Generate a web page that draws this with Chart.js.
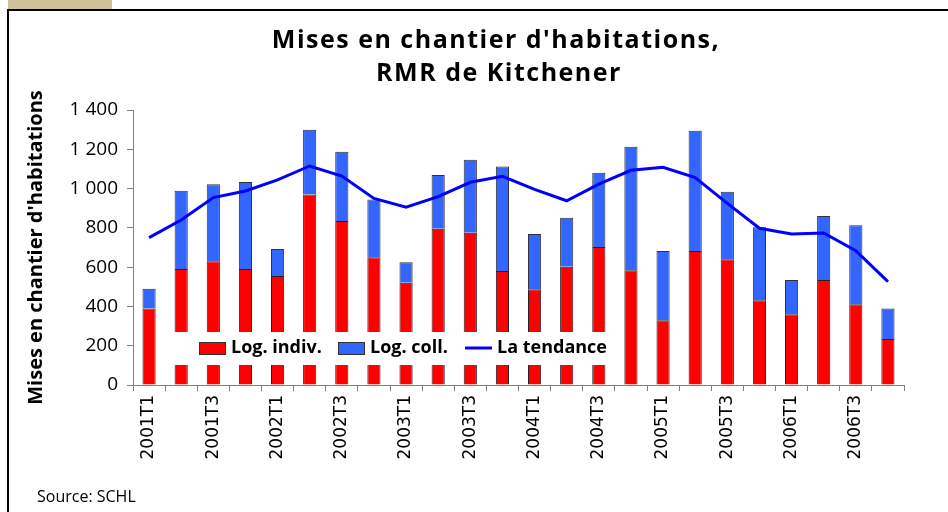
<!DOCTYPE html>
<html>
<head>
<meta charset="utf-8">
<script src="https://cdn.jsdelivr.net/npm/chart.js@4"></script>
<style>
  html, body { margin: 0; padding: 0; background: #fff; }
  #chart { display: block; }
</style>
</head>
<body>
<canvas id="chart" width="948" height="512"></canvas>
<script>
// quarters 2001T1 .. 2006T4
const quarters = ['2001T1', '2001T2', '2001T3', '2001T4', '2002T1', '2002T2', '2002T3', '2002T4',
                  '2003T1', '2003T2', '2003T3', '2003T4', '2004T1', '2004T2', '2004T3', '2004T4',
                  '2005T1', '2005T2', '2005T3', '2005T4', '2006T1', '2006T2', '2006T3', '2006T4'];
const logIndiv = [390, 590, 630, 590, 555, 970, 835, 650, 520, 795, 775, 580,
                  487, 602, 703, 584, 330, 682, 640, 431, 360, 535, 411, 234];
const logColl = [100, 399, 392, 444, 137, 330, 353, 295, 105, 274, 372, 532,
                 282, 250, 378, 629, 352, 613, 344, 372, 175, 325, 402, 156];
const tendance = [750, 840, 954, 988, 1044, 1115, 1064, 950, 905, 959, 1032, 1062,
                  996, 938, 1023, 1093, 1108, 1056, 925, 798, 769, 774, 684, 526];
const yTicks = [0, 200, 400, 600, 800, 1000, 1200, 1400];

const FONT = '"Open Sans", sans-serif';
const XFONT = '"DejaVu Sans", sans-serif';

// 1400 -> "1 400"
const fmt = v => String(v).replace(/\B(?=(\d{3})+(?!\d))/g, ' ');

// background, frame, title and source
const decor = {
    id: 'decor',
    beforeDraw(chart) {
        const c = chart.ctx;
        c.save();
        c.fillStyle = '#fff';
        c.fillRect(0, 0, chart.width, chart.height);
        c.fillStyle = '#cfc096';
        c.fillRect(8, 0, 104, 10);
        c.strokeStyle = '#000';
        c.lineWidth = 2;
        c.beginPath();
        c.moveTo(8, 512);
        c.lineTo(8, 10);
        c.lineTo(948, 10);
        c.stroke();
        c.restore();
    },
    afterDraw(chart) {
        const c = chart.ctx;
        c.save();
        c.fillStyle = '#000';
        c.textAlign = 'center';
        c.textBaseline = 'middle';
        c.font = 'bold 25px ' + FONT;
        c.letterSpacing = '1.5px';
        c.fillText("Mises en chantier d'habitations,", 496, 41);
        c.fillText('RMR de Kitchener', 499, 74);
        c.letterSpacing = '0px';
        c.textAlign = 'left';
        c.font = '16px ' + FONT;
        c.fillText('Source: SCHL', 37, 497);
        c.restore();
    }
};

// legend box sitting inside the plot, over the bars
const innerLegend = {
    id: 'innerLegend',
    afterDatasetsDraw(chart) {
        const c = chart.ctx;
        const ds = chart.data.datasets;
        c.save();
        c.fillStyle = '#fff';
        c.fillRect(168, 332, 448, 33);
        c.font = 'bold 18px ' + FONT;
        c.textBaseline = 'middle';
        c.lineWidth = 1;
        // bar entries
        [[0, 199, 231], [1, 338, 370]].forEach(([i, bx, tx]) => {
            c.fillStyle = ds[i].backgroundColor;
            c.fillRect(bx, 342, 26, 12);
            c.strokeStyle = '#333';
            c.strokeRect(bx + 0.5, 342.5, 26, 12);
            c.fillStyle = '#000';
            c.fillText(ds[i].label, tx, 348);
        });
        // line entry
        c.strokeStyle = ds[2].borderColor;
        c.lineWidth = 3;
        c.beginPath();
        c.moveTo(465, 348);
        c.lineTo(492, 348);
        c.stroke();
        c.fillStyle = '#000';
        c.fillText(ds[2].label, 497, 348);
        c.restore();
    }
};

new Chart(document.getElementById('chart'), {
    data: {
        labels: quarters,
        datasets: [
            {
                type: 'bar',
                label: 'Log. indiv.',
                data: logIndiv,
                backgroundColor: '#ff0000',
                borderColor: '#222',
                borderWidth: 1,
                barPercentage: 0.41,
                categoryPercentage: 1,
                order: 2
            },
            {
                type: 'bar',
                label: 'Log. coll.',
                data: logColl,
                backgroundColor: '#3366ff',
                borderColor: '#333',
                borderWidth: 1,
                barPercentage: 0.41,
                categoryPercentage: 1,
                order: 2
            },
            {
                type: 'line',
                label: 'La tendance',
                data: tendance,
                borderColor: '#0000ff',
                borderWidth: 3,
                pointRadius: 0,
                tension: 0,
                fill: false,
                order: 1
            }
        ]
    },
    options: {
        responsive: false,
        animation: false,
        devicePixelRatio: 1,
        layout: { padding: { left: 24, top: 110, right: 44, bottom: 0 } },
        plugins: {
            legend: { display: false },
            tooltip: { enabled: false },
            title: { display: false }
        },
        scales: {
            x: {
                stacked: true,
                grid: { display: true, drawOnChartArea: false, tickLength: 6, color: '#808080', offset: true },
                border: { color: '#808080', width: 1 },
                ticks: {
                    autoSkip: false,
                    maxRotation: 90,
                    minRotation: 90,
                    padding: 4,
                    color: '#000',
                    font: { family: XFONT, size: 17 },
                    callback: (v, i) => i % 2 === 0 ? quarters[i] : ''
                },
                afterFit: s => { s.height = 127; }
            },
            y: {
                stacked: true,
                min: 0,
                max: 1400,
                afterBuildTicks: s => { s.ticks = yTicks.map(v => ({ value: v })); },
                grid: { display: true, drawOnChartArea: false, tickLength: 6, color: '#808080' },
                border: { color: '#808080', width: 1 },
                ticks: {
                    padding: 9,
                    color: '#000',
                    font: { family: FONT, size: 19 },
                    callback: v => fmt(v)
                },
                title: {
                    display: true,
                    text: "Mises en chantier d'habitations",
                    color: '#000',
                    font: { family: FONT, size: 20, weight: 'bold' },
                    padding: 0
                },
                afterFit: s => { s.width = 109; }
            }
        }
    },
    plugins: [decor, innerLegend]
});
</script>
</body>
</html>
